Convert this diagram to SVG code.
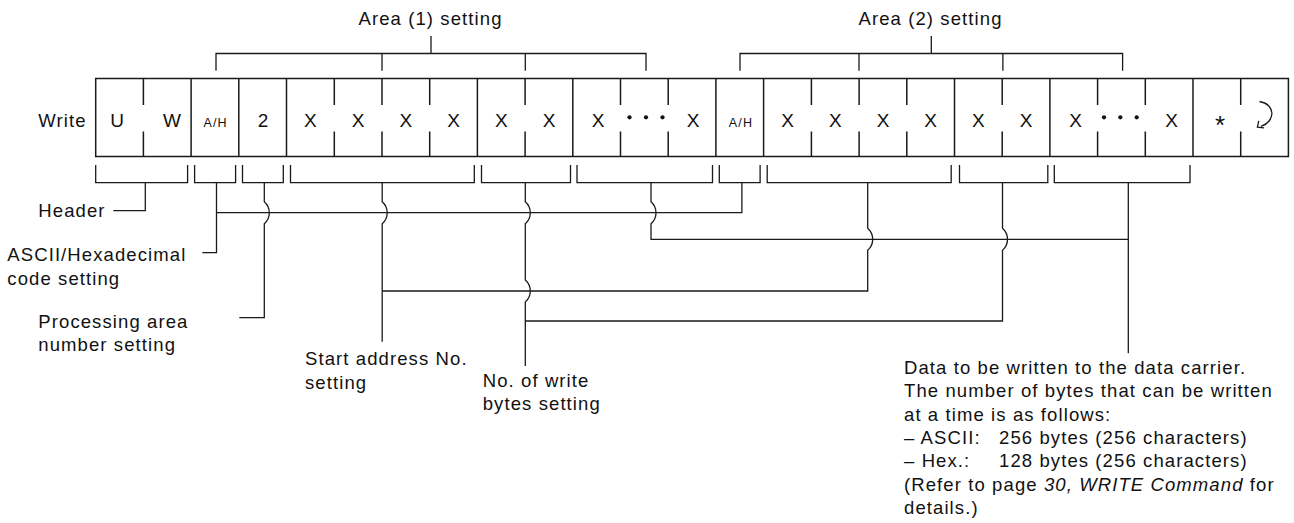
<svg xmlns="http://www.w3.org/2000/svg" width="1294" height="523" viewBox="0 0 1294 523">
<style>
  .t { font-family: "Liberation Sans", Arial, sans-serif; font-size: 18.5px; letter-spacing: 1.1px; fill: #111; }
  .c { font-family: "Liberation Sans", Arial, sans-serif; font-size: 19px; fill: #111; text-anchor: middle; }
  .ah { font-family: "Liberation Sans", Arial, sans-serif; font-size: 12.5px; letter-spacing: 1.2px; fill: #111; text-anchor: middle; }
  .ln { fill: none; stroke: #1a1a1a; stroke-width: 1.3; }
  .cell { fill: none; stroke: #1a1a1a; stroke-width: 1.5; }
  .dot { fill: #111; }
</style>
<rect width="1294" height="523" fill="#fff"/>

<g id="frame">
  <rect class="cell" x="95.7" y="78.5" width="1192.7" height="78"/>
  <path class="cell" d="M191.1,78.5V156.5 M238.8,78.5V156.5 M286.5,78.5V156.5 M477.4,78.5V156.5 M572.8,78.5V156.5 M715.9,78.5V156.5 M763.6,78.5V156.5 M954.5,78.5V156.5 M1049.9,78.5V156.5 M1193,78.5V156.5"/>
  <path class="cell" d="M143.4,78.5V105 M143.4,131.5V156.5 M334.3,78.5V105 M334.3,131.5V156.5 M382,78.5V105 M382,131.5V156.5 M429.7,78.5V105 M429.7,131.5V156.5 M525.1,78.5V105 M525.1,131.5V156.5 M620.5,78.5V105 M620.5,131.5V156.5 M668.2,78.5V105 M668.2,131.5V156.5 M811.4,78.5V105 M811.4,131.5V156.5 M859.1,78.5V105 M859.1,131.5V156.5 M906.8,78.5V105 M906.8,131.5V156.5 M1002.2,78.5V105 M1002.2,131.5V156.5 M1097.6,78.5V105 M1097.6,131.5V156.5 M1145.3,78.5V105 M1145.3,131.5V156.5 M1240.7,78.5V105 M1240.7,131.5V156.5"/>
  <text class="c" x="117" y="126.7">U</text>
  <text class="c" x="172" y="126.7">W</text>
  <text class="ah" x="215.6" y="126.7">A/H</text>
  <text class="c" x="263" y="126.7">2</text>
  <text class="c" x="310.4" y="126.7">X</text>
  <text class="c" x="358.1" y="126.7">X</text>
  <text class="c" x="405.9" y="126.7">X</text>
  <text class="c" x="453.6" y="126.7">X</text>
  <text class="c" x="501.3" y="126.7">X</text>
  <text class="c" x="549" y="126.7">X</text>
  <text class="c" x="598" y="126.7">X</text>
  <circle class="dot" cx="629.5" cy="117.3" r="2.1"/>
  <circle class="dot" cx="646" cy="117.3" r="2.1"/>
  <circle class="dot" cx="662.5" cy="117.3" r="2.1"/>
  <text class="c" x="693" y="126.7">X</text>
  <text class="ah" x="741" y="126.7">A/H</text>
  <text class="c" x="787.5" y="126.7">X</text>
  <text class="c" x="835.3" y="126.7">X</text>
  <text class="c" x="883" y="126.7">X</text>
  <text class="c" x="930.7" y="126.7">X</text>
  <text class="c" x="978.4" y="126.7">X</text>
  <text class="c" x="1026.1" y="126.7">X</text>
  <text class="c" x="1075.5" y="126.7">X</text>
  <circle class="dot" cx="1104" cy="117.3" r="2.1"/>
  <circle class="dot" cx="1120.3" cy="117.3" r="2.1"/>
  <circle class="dot" cx="1136.7" cy="117.3" r="2.1"/>
  <text class="c" x="1171.5" y="126.7">X</text>
  <text x="1220" y="134" font-family="Liberation Sans, Arial, sans-serif" font-size="26" fill="#111" text-anchor="middle">*</text>
  <path class="ln" d="M1259.5,101.5 C1275.5,104 1276,121.5 1261,126.3"/>
  <path class="ln" d="M1258.8,120.8 L1257.4,127.2 L1264,127.8"/>
</g>

<g id="write-label">
  <text class="t" x="38.3" y="126.7">Write</text>
</g>

<g id="area1-setting">
  <text class="t" x="430.5" y="25" text-anchor="middle">Area (1) setting</text>
  <path class="ln" d="M431,36V53.5 M216,70.7V53.5H646V70.7 M382,53.5V70.7 M525.3,53.5V70.7"/>
</g>

<g id="area2-setting">
  <text class="t" x="930.5" y="25" text-anchor="middle">Area (2) setting</text>
  <path class="ln" d="M931.3,36V53.5 M740,70.7V53.5H1122.6V70.7 M859,53.5V70.7 M1002.9,53.5V70.7"/>
</g>

<g id="field-brackets">
  <path class="ln" d="M95.7,165V182.7H187.6V165 M194.6,165V182.7H235.6V165 M242.5,165V182.7H283.3V165 M290.5,165V182.7H474.3V165 M481.5,165V182.7H570.5V165 M577,165V182.7H712.5V165 M719.3,165V182.7H760.1V165 M767.2,165V182.7H951.2V165 M959.5,165V182.7H1047.8V165 M1054.3,165V182.7H1190V165"/>
</g>

<g id="connectors">
  <path class="ln" d="M145.3,182.7V210.7H113.3"/>
  <path class="ln" d="M216.5,182.7V252.7H202.3"/>
  <path class="ln" d="M216.5,212.7H741.9V182.7"/>
  <path class="ln" d="M264.3,182.7V201.7A14.6,14.6 0 0 1 264.3,223.7V317.7H239.3"/>
  <path class="ln" d="M382.2,182.7V201.7A14.6,14.6 0 0 1 382.2,223.7V341.7"/>
  <path class="ln" d="M382.2,291H867.7V250.3A14.6,14.6 0 0 0 867.7,228.3V182.7"/>
  <path class="ln" d="M525.3,182.7V201.7A14.6,14.6 0 0 1 525.3,223.7V280A14.6,14.6 0 0 1 525.3,302V366"/>
  <path class="ln" d="M525.3,321H1002.5V250.3A14.6,14.6 0 0 0 1002.5,228.3V182.7"/>
  <path class="ln" d="M651,182.7V201.7A14.6,14.6 0 0 1 651,223.7V239.3H1128.3"/>
  <path class="ln" d="M1128.3,182.7V353.3"/>
</g>

<g id="header-label">
  <text class="t" x="38.3" y="216.7">Header</text>
</g>
<g id="code-label">
  <text class="t" x="7.3" y="261">ASCII/Hexadecimal</text>
  <text class="t" x="7.3" y="285">code setting</text>
</g>
<g id="area-number-label">
  <text class="t" x="38.3" y="327.5">Processing area</text>
  <text class="t" x="38.3" y="350.5">number setting</text>
</g>
<g id="start-address-label">
  <text class="t" x="305" y="365">Start address No.</text>
  <text class="t" x="305" y="388.5">setting</text>
</g>
<g id="write-bytes-label">
  <text class="t" x="482.7" y="386.7">No. of write</text>
  <text class="t" x="482.7" y="410">bytes setting</text>
</g>
<g id="data-label">
  <text class="t" x="904" y="374">Data to be written to the data carrier.</text>
  <text class="t" x="904" y="397.3">The number of bytes that can be written</text>
  <text class="t" x="904" y="420.6">at a time is as follows:</text>
  <text class="t" y="444"><tspan x="904">– ASCII:</tspan><tspan x="999">256 bytes (256 characters)</tspan></text>
  <text class="t" y="467.3"><tspan x="904">– Hex.:</tspan><tspan x="999">128 bytes (256 characters)</tspan></text>
  <text class="t" x="904" y="490.6">(Refer to page <tspan font-style="italic">30, WRITE Command</tspan> for</text>
  <text class="t" x="904" y="514">details.)</text>
</g>
</svg>
